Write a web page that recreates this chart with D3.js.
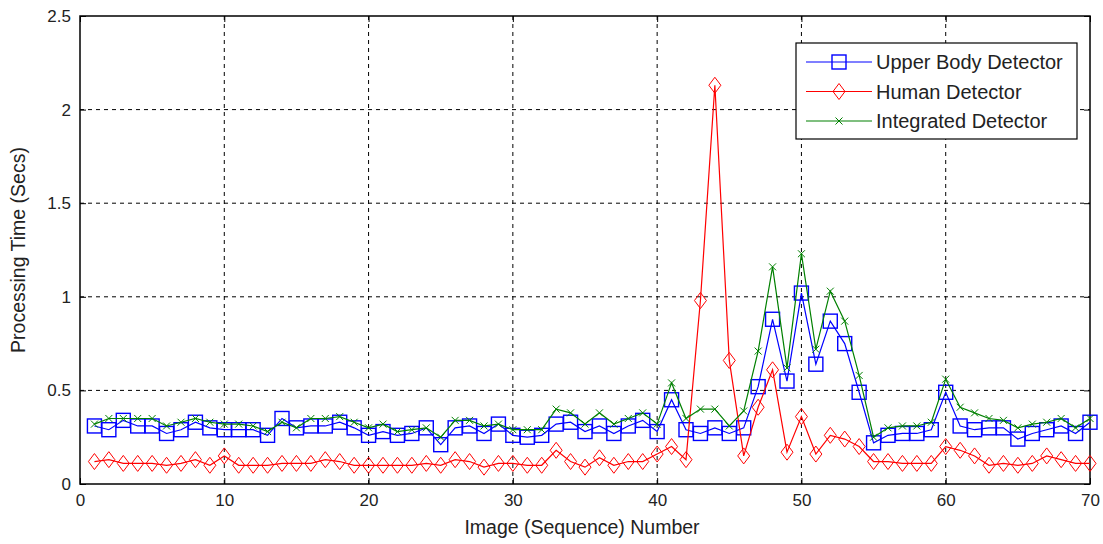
<!DOCTYPE html>
<meta charset="utf-8">
<head>
<style>
  body { margin: 0; background: #fff; font-family: "Liberation Sans", Arial, sans-serif; }
  .tick text { font-size: 17px; fill: #222; }
  .grid line { stroke: #000; stroke-dasharray: 4,4; }
</style>
</head>
<body>
<svg id="chart" width="1103" height="544"></svg>
<script src="https://d3js.org/d3.v7.min.js"></script>
<script>

// image numbers 1..70
var frames = d3.range(1, 71)

var upperBody = [0.31,0.29,0.34,0.31,0.31,0.27,0.29,0.33,0.30,0.29,
                 0.29,0.29,0.26,0.35,0.30,0.31,0.31,0.33,0.30,0.26,
                 0.28,0.26,0.27,0.30,0.21,0.30,0.31,0.27,0.32,0.26,
                 0.25,0.26,0.32,0.33,0.28,0.31,0.27,0.31,0.34,0.28,
                 0.45,0.29,0.27,0.30,0.27,0.30,0.52,0.88,0.55,1.02,
                 0.64,0.87,0.75,0.49,0.22,0.26,0.27,0.27,0.29,0.49,
                 0.31,0.29,0.30,0.30,0.24,0.27,0.29,0.31,0.27,0.33]

var human = [0.12,0.13,0.11,0.11,0.11,0.10,0.11,0.13,0.10,0.15,
             0.10,0.10,0.10,0.11,0.11,0.11,0.13,0.12,0.10,0.10,
             0.10,0.10,0.10,0.11,0.10,0.13,0.12,0.09,0.11,0.11,
             0.10,0.10,0.18,0.12,0.09,0.14,0.10,0.12,0.12,0.16,
             0.20,0.13,0.98,2.13,0.66,0.15,0.41,0.61,0.17,0.36,
             0.16,0.26,0.24,0.20,0.12,0.12,0.11,0.11,0.11,0.20,
             0.18,0.15,0.10,0.11,0.10,0.11,0.15,0.13,0.11,0.11]

var integrated = [0.32,0.35,0.35,0.35,0.35,0.31,0.33,0.35,0.33,0.32,
                  0.32,0.31,0.28,0.33,0.30,0.35,0.35,0.36,0.33,0.30,
                  0.32,0.28,0.29,0.30,0.25,0.34,0.34,0.31,0.32,0.29,
                  0.29,0.29,0.40,0.38,0.32,0.38,0.32,0.35,0.38,0.32,
                  0.54,0.35,0.40,0.40,0.31,0.39,0.71,1.16,0.62,1.23,
                  0.72,1.03,0.87,0.58,0.25,0.30,0.31,0.31,0.33,0.56,
                  0.41,0.38,0.35,0.34,0.30,0.32,0.33,0.35,0.30,0.35]

var seriesNames = ["Upper Body Detector", "Human Detector", "Integrated Detector"]
var seriesColors = ["#0000ff", "#ff0000", "#008000"]
var seriesMarkers = ["square", "diamond", "cross"]

var svg = d3.select("#chart")
var margin = {left: 80, right: 13, top: 16, bottom: 60}
var width = 1103 - margin.left - margin.right,
    height = 544 - margin.top - margin.bottom

var g = svg.append("g").attr("transform", "translate(" + margin.left + "," + margin.top + ")")

var x = d3.scaleLinear().domain([0, 70]).range([0, width])
var y = d3.scaleLinear().domain([0, 2.5]).range([height, 0])

// grid
g.append("g").attr("class", "grid")
  .selectAll("line").data(x.ticks(7).slice(1, -1)).enter().append("line")
    .attr("x1", d => x(d)).attr("x2", d => x(d)).attr("y1", 0).attr("y2", height)
g.append("g").attr("class", "grid")
  .selectAll("line").data(y.ticks(5).slice(1, -1)).enter().append("line")
    .attr("y1", d => y(d)).attr("y2", d => y(d)).attr("x1", 0).attr("x2", width)

// axes, ticks pointing inside
var xAxis = g.append("g").attr("transform", "translate(0," + height + ")")
  .call(d3.axisBottom(x).ticks(7).tickSize(-6).tickPadding(10))
var yAxis = g.append("g")
  .call(d3.axisLeft(y).ticks(5).tickSize(-6).tickPadding(9).tickFormat(d3.format("")))
g.append("g").call(d3.axisTop(x).ticks(7).tickSize(-6).tickFormat(""))
g.append("g").attr("transform", "translate(" + width + ",0)")
  .call(d3.axisRight(y).ticks(5).tickSize(-6).tickFormat(""))
g.selectAll(".domain").remove()
g.selectAll(".tick line").attr("stroke", "#000")

g.append("rect").attr("width", width).attr("height", height)
  .attr("fill", "none").attr("stroke", "#000").attr("stroke-width", 1.5)

// markers
function drawMarker(sel, type, color) {
  if (type == "square") {
    sel.append("rect").attr("x", -7).attr("y", -7).attr("width", 14).attr("height", 14)
      .attr("fill", "none").attr("stroke", color).attr("stroke-width", 1.4)
  } else if (type == "diamond") {
    sel.append("path").attr("d", "M0,-8L6,0L0,8L-6,0Z")
      .attr("fill", "none").attr("stroke", color).attr("stroke-width", 1)
  } else {
    sel.append("path").attr("d", "M-3.5,-3.5L3.5,3.5M-3.5,3.5L3.5,-3.5")
      .attr("fill", "none").attr("stroke", color).attr("stroke-width", 1)
  }
}

var allSeries = [upperBody, human, integrated]
var line = d3.line().x((d, i) => x(frames[i])).y(d => y(d))

allSeries.forEach(function(vals, k) {
  var sg = g.append("g")
  sg.append("path").datum(vals).attr("d", line)
    .attr("fill", "none").attr("stroke", seriesColors[k]).attr("stroke-width", 1.2)
  sg.selectAll("g.m").data(vals).enter().append("g").attr("class", "m")
    .attr("transform", (d, i) => "translate(" + x(frames[i]) + "," + y(d) + ")")
    .each(function() { drawMarker(d3.select(this), seriesMarkers[k], seriesColors[k]) })
})

// axis labels
svg.append("text").attr("x", margin.left + width / 2 - 3).attr("y", 534)
  .attr("text-anchor", "middle").style("font-size", "19.5px").attr("fill", "#222")
  .text("Image (Sequence) Number")
svg.append("text").attr("transform", "translate(25," + (margin.top + height / 2) + ") rotate(-90)")
  .attr("text-anchor", "middle").style("font-size", "19.5px").attr("fill", "#222")
  .text("Processing Time (Secs)")

// legend
var lg = svg.append("g").attr("transform", "translate(796,43)")
lg.append("rect").attr("width", 281).attr("height", 96)
  .attr("fill", "#fff").attr("stroke", "#000").attr("stroke-width", 1.2)
seriesNames.forEach(function(name, k) {
  var row = lg.append("g").attr("transform", "translate(0," + (19 + k * 29.5) + ")")
  row.append("line").attr("x1", 10).attr("x2", 76).attr("stroke", seriesColors[k]).attr("stroke-width", 1.2)
  drawMarker(row.append("g").attr("transform", "translate(43,0)"), seriesMarkers[k], seriesColors[k])
  row.append("text").attr("x", 80).attr("dy", "0.35em").style("font-size", "20px").attr("fill", "#222").text(name)
})

</script>
</body>
